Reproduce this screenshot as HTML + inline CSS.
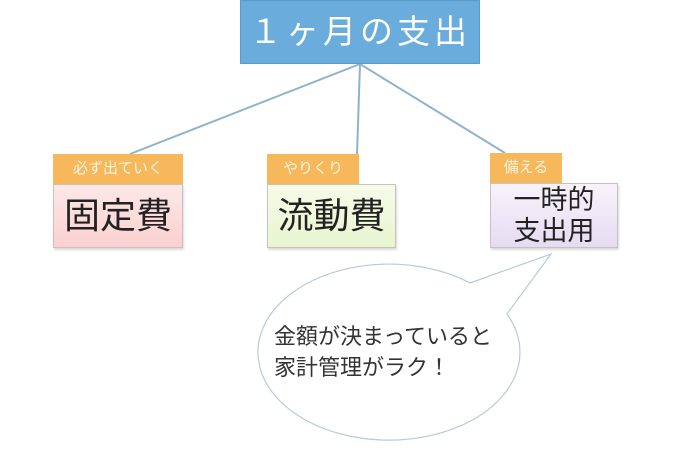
<!DOCTYPE html>
<html><head><meta charset="utf-8"><style>
body{margin:0;width:680px;height:454px;background:#fff;position:relative;overflow:hidden;font-family:"Liberation Sans","Noto Sans CJK JP",sans-serif}
.a{position:absolute;box-sizing:border-box}
.lab{background:#f7b85c;color:#fdf3e0;font-size:15px;line-height:30px;text-align:center}
.box{border:1px solid #c9c0c0;box-shadow:1px 2px 2px rgba(0,0,0,.15);color:#222;text-align:center}
</style></head><body>
<svg class="a" style="left:0;top:0" width="680" height="454">
<g stroke="#8fb3cc" stroke-width="2" fill="none">
<line x1="360" y1="64" x2="130" y2="154"/>
<line x1="360" y1="64" x2="357" y2="154"/>
<line x1="360" y1="64" x2="505" y2="153"/>
</g>
<path d="M470,283 L551,254 L507,314 A131,88 0 1 1 470,283 Z" fill="#fff" stroke="#b8cbd8" stroke-width="1.2"/>
<text x="274" y="344" font-size="22" fill="#333" font-family="Liberation Sans, Noto Sans CJK JP, sans-serif">金額が決まっていると</text>
<text x="274" y="375" font-size="22" fill="#333" font-family="Liberation Sans, Noto Sans CJK JP, sans-serif">家計管理がラク！</text>
</svg>
<div class="a" style="left:240px;top:0;width:240px;height:64px;background:#6aaddc;border:1px solid #5b9cc9;color:#fff;font-size:33px;line-height:62px;text-align:center;letter-spacing:4px">１ヶ月の支出</div>
<div class="a lab" style="left:53px;top:154px;width:130px">必ず出ていく</div>
<div class="a box" style="left:53px;top:184px;width:130px;height:64px;background:linear-gradient(#fde8e8,#fbd0d0);font-size:36px;line-height:62px">固定費</div>
<div class="a lab" style="left:267px;top:154px;width:92px">やりくり</div>
<div class="a box" style="left:267px;top:184px;width:129px;height:64px;background:linear-gradient(#f6fbe9,#e8f5cf);font-size:36px;line-height:62px">流動費</div>
<div class="a lab" style="left:490px;top:153px;width:72px">備える</div>
<div class="a box" style="left:490px;top:183px;width:128px;height:65px;background:linear-gradient(#f7f3fb,#e6dcf2);font-size:27px;line-height:31px;padding-top:1px">一時的<br>支出用</div>
</body></html>
